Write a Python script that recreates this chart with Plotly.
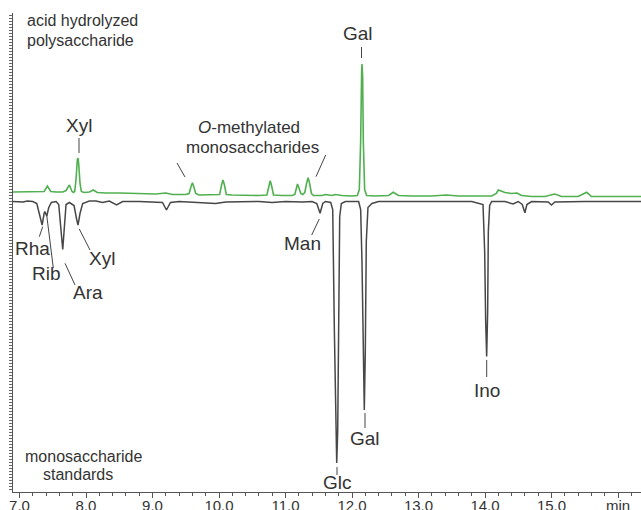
import plotly.graph_objects as go

# ---- data (retention time in min, detector signal in arbitrary units) ----
green_t = [6.88, 7.00, 7.10, 7.20, 7.30, 7.37, 7.42, 7.47, 7.55, 7.65, 7.70, 7.75, 7.79, 7.81, 7.83, 7.85,
           7.87, 7.88, 7.89, 7.91, 7.93, 7.97, 8.05, 8.11, 8.17, 8.30, 8.50, 8.70, 8.90, 9.05, 9.20, 9.30,
           9.50, 9.55, 9.58, 9.60, 9.62, 9.65, 9.70, 9.90, 10.01, 10.04, 10.06, 10.08, 10.11, 10.20, 10.40,
           10.60, 10.72, 10.75, 10.77, 10.79, 10.82, 10.95, 11.10, 11.14, 11.16, 11.18, 11.20, 11.23, 11.26,
           11.29, 11.32, 11.34, 11.36, 11.39, 11.42, 11.55, 11.60, 11.70, 11.75, 11.85, 12.00, 12.08, 12.11,
           12.13, 12.145, 12.15, 12.16, 12.17, 12.19, 12.22, 12.35, 12.55, 12.62, 12.70, 12.90, 13.20,
           13.42, 13.60, 13.90, 14.10, 14.17, 14.20, 14.30, 14.40, 14.48, 14.55, 14.70, 14.90, 15.05,
           15.15, 15.40, 15.53, 15.60, 16.40]
green_v = [9.5, 9.5, 10, 9.5, 10, 10, 15.5, 10, 9.5, 9.5, 11, 16.5, 10, 9, 10, 22,
           42, 43.5, 38, 18, 10, 9, 9.5, 11.5, 9, 8.5, 8.5, 8, 8, 7.5, 8.5, 7,
           7, 8, 15, 18.8, 15, 8, 6.5, 6.5, 7, 17, 21.5, 17, 7, 6.5, 6,
           6, 6.5, 16, 20.8, 16, 6.5, 6, 6, 7, 14, 17.5, 14, 8, 7,
           9, 19, 23.8, 19, 8, 6, 6, 7, 6, 7, 6, 5.5, 6, 12,
           60, 130, 137.5, 125, 60, 12, 6, 5.5, 6, 9.2, 6, 5.5, 5.5,
           6.5, 5.5, 5.5, 5.5, 8, 11.5, 9, 8, 8.5, 6, 5, 5, 7.5,
           5, 5, 9.2, 5, 5]

black_t = [6.88, 7.05, 7.12, 7.20, 7.26, 7.30, 7.34, 7.37, 7.38, 7.41, 7.44, 7.48, 7.55, 7.59, 7.62, 7.65,
           7.67, 7.70, 7.75, 7.82, 7.86, 7.88, 7.91, 7.95, 8.05, 8.15, 8.25, 8.35, 8.46, 8.55, 8.80, 9.05,
           9.15, 9.21, 9.27, 9.40, 9.60, 9.80, 9.95, 10.10, 10.30, 10.60, 10.80, 11.00, 11.25, 11.40, 11.47,
           11.52, 11.56, 11.60, 11.68, 11.71, 11.735, 11.755, 11.77, 11.785, 11.80, 11.815, 11.84, 11.90,
           12.10, 12.13, 12.15, 12.165, 12.185, 12.20, 12.215, 12.24, 12.30, 12.40, 12.70, 13.00, 13.40,
           13.80, 13.97, 13.995, 14.01, 14.025, 14.04, 14.05, 14.07, 14.10, 14.30, 14.42, 14.50, 14.56,
           14.60, 14.63, 14.70, 14.95, 15.00, 15.05, 15.50, 16.40]
black_v = [0, -0.5, 0.5, 0, -2, -12, -23.5, -12, -10, -14.5, -6, -1, 0, -3, -30, -48,
           -30, -3, -1, -4, -18, -23.5, -12, -2, 0.5, 0.5, -1, 0.5, -3.5, 0, 0, -0.5,
           -1, -8.5, -1, 0, -0.5, -1, -2, -0.5, 0, 0, -1, 0, -0.5, 0, -2,
           -11.8, -2, 0, -1, -8, -130, -240, -261.5, -230, -100, -15, -2, 0,
           0, -8, -60, -150, -208.5, -150, -40, -6, -2, 0, 0, 0.5, 0,
           0, -3, -50, -120, -155, -110, -30, -4, 0, 0, -2.5, 0, -3,
           -11.2, -3, 0, -0.5, -3.5, -0.5, 0, 0]

tick_vals = [7, 8, 9, 10, 11, 12, 13, 14, 15, 16]
tick_text = ["7.0", "8.0", "9.0", "10.0", "11.0", "12.0", "13.0", "14.0", "15.0", "min"]

# ---- layout helpers (pixel -> data) ----
X0_PX, PX_PER_MIN = 19.5, 66.5
BASE_PY = 201.5


def tx(px):
    return 7 + (px - X0_PX) / PX_PER_MIN


def vy(py):
    return BASE_PY - py


TXT = "#333333"
FONT = "Liberation Sans, Arial, sans-serif"

fig = go.Figure()
fig.add_trace(go.Scatter(x=green_t, y=green_v, mode="lines",
                         line=dict(color="#50b050", width=1.6), hoverinfo="skip"))
fig.add_trace(go.Scatter(x=black_t, y=black_v, mode="lines",
                         line=dict(color="#474747", width=1.5), hoverinfo="skip"))

leaders = [
    ((79, 138), (79, 153)),
    ((361.5, 47), (361.5, 58)),
    ((177, 163), (185, 177)),
    ((325.7, 155), (316, 176.7)),
    ((39.3, 236.7), (42.7, 226.7)),
    ((53.3, 268), (46.7, 215)),
    ((75, 285), (65, 263.3)),
    ((90, 250), (79.3, 229)),
    ((311.7, 235), (319.3, 219)),
    ((337, 467), (337, 475)),
    ((365, 413), (365, 428)),
    ((486.7, 360), (486.7, 377)),
]
for (a, b) in leaders:
    fig.add_shape(type="line", xref="x", yref="y", x0=tx(a[0]), y0=vy(a[1]), x1=tx(b[0]), y1=vy(b[1]),
                  line=dict(color="#444444", width=1))

labels = [
    ("Xyl", 79, 125, 19),
    ("Gal", 358, 33, 19),
    ("<i>O</i>-methylated", 249, 127, 17),
    ("monosaccharides", 252, 147, 17),
    ("Rha", 32, 248, 19),
    ("Rib", 46, 273, 19),
    ("Ara", 88, 292, 19),
    ("Xyl", 102, 258, 19),
    ("Man", 302, 243, 19),
    ("Glc", 337, 482, 19),
    ("Gal", 365, 438, 19),
    ("Ino", 487, 390, 19),
    ("monosaccharide", 84, 456, 16),
    ("standards", 78, 474, 16),
]
for text, px, py, size in labels:
    fig.add_annotation(x=tx(px), y=vy(py), xref="x", yref="y", text=text, showarrow=False,
                       xanchor="center", yanchor="middle", font=dict(size=size, color=TXT, family=FONT))
for text, px, py in [("acid hydrolyzed", 25, 20), ("polysaccharide", 25, 40)]:
    fig.add_annotation(x=tx(px), y=vy(py), xref="x", yref="y", text=text, showarrow=False,
                       xanchor="left", yanchor="middle", font=dict(size=16, color=TXT, family=FONT))

fig.update_layout(
    width=641, height=510,
    margin=dict(l=13, r=0, t=13, b=18, autoexpand=False),
    paper_bgcolor="white", plot_bgcolor="white",
    showlegend=False,
    font=dict(family=FONT, color=TXT),
    xaxis=dict(range=[tx(13), tx(641)], tickmode="array", tickvals=tick_vals, ticktext=tick_text,
               ticks="outside", ticklen=5, tickcolor="#555", showline=True, linecolor="#555", linewidth=1,
               showgrid=False, zeroline=False, tickfont=dict(size=15, color=TXT), ticklabelstandoff=-5,
               automargin=False,
               minor=dict(tickmode="linear", tick0=7, dtick=0.2, ticks="outside", ticklen=3,
                          tickcolor="#555", showgrid=False)),
    yaxis=dict(range=[vy(492), vy(13)], showticklabels=False, ticks="outside", ticklen=3,
               tickmode="linear", tick0=0, dtick=3, tickcolor="#666", showline=True, linecolor="#555",
               linewidth=1, showgrid=False, zeroline=False, automargin=False),
)

fig.write_html("out.html", config={"displayModeBar": False},
               post_script="document.body.style.margin='0px';")
